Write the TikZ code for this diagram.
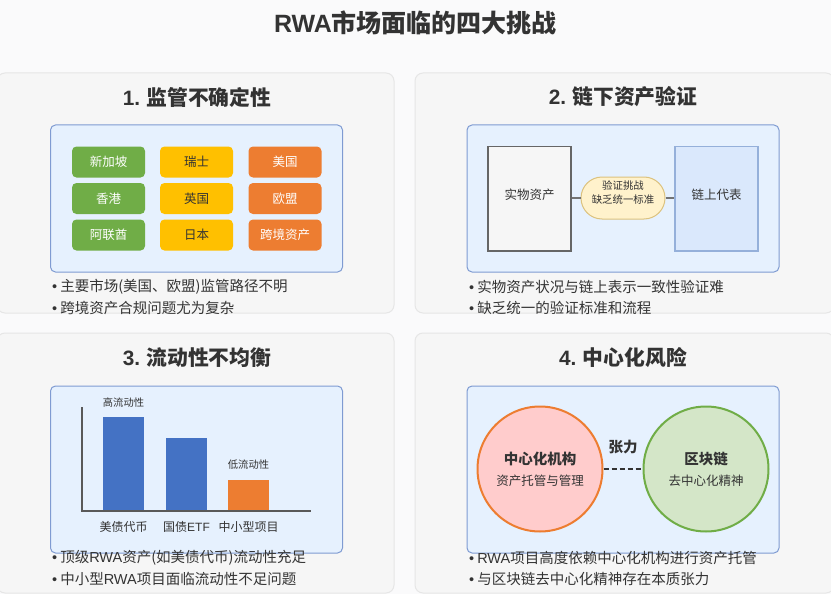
\documentclass[tikz,border=0pt]{standalone}
\usepackage{fontspec}
\setmainfont{Noto Sans CJK SC}
\newfontfamily\latinfont{Liberation Sans}
\usetikzlibrary{positioning,shapes.misc,backgrounds}
\definecolor{pagebg}{HTML}{FAFAFB}
\definecolor{cardbg}{HTML}{F6F6F6}
\definecolor{cardline}{HTML}{E6E6E6}
\definecolor{panelbg}{HTML}{E6F1FE}
\definecolor{panelline}{HTML}{7F9BD2}
\definecolor{inktext}{HTML}{333333}
\definecolor{chipgreen}{HTML}{70AD47}
\definecolor{chipyellow}{HTML}{FFC000}
\definecolor{chiporange}{HTML}{ED7D31}
\definecolor{barblue}{HTML}{4472C4}
\definecolor{chainbg}{HTML}{DAE8FC}
\definecolor{chainline}{HTML}{95B0DA}
\definecolor{pillbg}{HTML}{FFF2CC}
\definecolor{pillline}{HTML}{DCC27E}
\newcommand{\lat}[1]{{\latinfont #1}}
\newcommand{\dotmark}{{\latinfont •}\hspace{3pt}}
\begin{document}
\begin{tikzpicture}[
  x=1pt, y=-1pt,
  font=\fontsize{13}{16}\selectfont,
  every node/.style={text=inktext},
  card/.style={draw=cardline, line width=1pt, fill=cardbg, rounded corners=8pt},
  panel/.style={draw=panelline, line width=1pt, fill=panelbg, rounded corners=5pt},
  cardtitle/.style={font=\fontsize{20.8}{24}\selectfont\bfseries},
  chip/.style={rounded corners=4.5pt, minimum width=73pt, minimum height=31pt, inner sep=0pt, font=\fontsize{12.5}{14}\selectfont},
  greenchip/.style={chip, fill=chipgreen, text=white},
  yellowchip/.style={chip, fill=chipyellow},
  orangechip/.style={chip, fill=chiporange, text=white},
  bullet/.style={anchor=west, inner sep=0pt, font=\fontsize{14.5}{16}\selectfont},
  tinylabel/.style={font=\fontsize{10.3}{12}\selectfont, inner sep=0pt},
  axislabel/.style={font=\fontsize{12}{14}\selectfont, inner sep=0pt},
  sidebox/.style={line width=1.5pt, minimum width=83pt, minimum height=104.5pt, inner sep=0pt},
  sidelabel/.style={font=\fontsize{12.5}{14}\selectfont, inner sep=0pt},
  bar/.style={minimum width=41pt, inner sep=0pt, anchor=south},
  orb/.style={circle, line width=2pt, minimum size=125pt, inner sep=0pt},
  orbtitle/.style={font=\fontsize{14.5}{16}\selectfont\bfseries, inner sep=0pt},
  orbtext/.style={font=\fontsize{12.5}{14}\selectfont, inner sep=0pt},
  link/.style={draw=black!55, line width=1.5pt}
]
\useasboundingbox (0,0) rectangle (831,594);
\fill[pagebg] (0,0) rectangle (831,594);

\node[font=\fontsize{25}{28}\selectfont\bfseries] (maintitle) at (415.5,23) {\lat{RWA}市场面临的四大挑战};

% cards
\draw[card] (-3,73) rectangle (394,313);
\draw[card] (415,73) rectangle (834,313);
\draw[card] (-3,333) rectangle (394,593);
\draw[card] (415,333) rectangle (834,593);
\draw[panel] (50.5,125) rectangle (342.5,272);
\draw[panel] (467,125) rectangle (779,272);
\draw[panel] (50.5,386) rectangle (342.5,553);
\draw[panel] (467,386) rectangle (779,553);

\node[cardtitle] (t1) at (197,97) {\lat{1.} 监管不确定性};
\node[cardtitle] (t2) at (623,97) {\lat{2.} 链下资产验证};
\node[cardtitle] (t3) at (197,358) {\lat{3.} 流动性不均衡};
\node[cardtitle] (t4) at (623,358) {\lat{4.} 中心化风险};

% challenge 1
\node[greenchip] (sg) at (108.5,162) {新加坡};
\node[greenchip] (hk) at (108.5,198.5) {香港};
\node[greenchip] (uae) at (108.5,235) {阿联酋};
\node[yellowchip] (ch) at (196.5,162) {瑞士};
\node[yellowchip] (uk) at (196.5,198.5) {英国};
\node[yellowchip] (jp) at (196.5,235) {日本};
\node[orangechip] (us) at (285,162) {美国};
\node[orangechip] (eu) at (285,198.5) {欧盟};
\node[orangechip] (cross) at (285,235) {跨境资产};
\node[bullet] (b1a) at (52,287) {\dotmark 主要市场(美国、欧盟)监管路径不明};
\node[bullet] (b1b) at (52,308) {\dotmark 跨境资产合规问题尤为复杂};

% challenge 2
\node[sidebox, draw=black!60, fill=cardbg] (real) at (529.5,198.5) {};
\node[sidebox, draw=chainline, fill=chainbg] (chain) at (716.5,198.5) {};
\node[sidelabel] (realt) at (529.5,195) {实物资产};
\node[sidelabel] (chaint) at (716.5,195) {链上代表};
\node[draw=pillline, line width=1pt, fill=pillbg, rounded rectangle, minimum width=84pt, minimum height=42pt, inner sep=0pt] (check) at (623,198) {};
\node[font=\fontsize{10.4}{14.5}\selectfont, inner sep=0pt, align=center] (checkt) at (623,192.5) {验证挑战\\缺乏统一标准};
\draw[link] (real.east |- check.west) -- (check.west);
\draw[link] (check.east) -- (chain.west |- check.east);
\node[bullet] (b2a) at (469,287) {\dotmark 实物资产状况与链上表示一致性验证难};
\node[bullet] (b2b) at (469,308) {\dotmark 缺乏统一的验证标准和流程};

% challenge 3
\coordinate (origin) at (82,511);
\coordinate (ytop) at (82,407);
\coordinate (xend) at (311,511);
\node[bar, fill=barblue, minimum height=94pt] (bar1) at (123.5,511) {};
\node[bar, fill=barblue, minimum height=73pt] (bar2) at (186.5,511) {};
\node[bar, fill=chiporange, minimum height=31pt] (bar3) at (248.5,511) {};
\draw[link, draw=black!65, line width=1.1pt] (ytop) -- (origin) -- (xend);
\node[tinylabel] (hi) at (123.5,403) {高流动性};
\node[tinylabel] (lo) at (248.5,465) {低流动性};
\node[axislabel] (l1) at (123.5,527) {美债代币};
\node[axislabel] (l2) at (186.5,527) {国债\lat{ETF}};
\node[axislabel] (l3) at (248.5,527) {中小型项目};
\node[bullet] (b3a) at (52,558) {\dotmark 顶级\lat{RWA}资产(如美债代币)流动性充足};
\node[bullet] (b3b) at (52,579) {\dotmark 中小型\lat{RWA}项目面临流动性不足问题};

% challenge 4
\node[orb, draw=chiporange, fill=red!20] (cex) at (540,469) {};
\node[orb, draw=chipgreen, fill=chipgreen!30] (bc) at (706,469) {};
\node[orbtitle] (cext) at (540,459) {中心化机构};
\node[orbtext] (cexs) at (540,481) {资产托管与管理};
\node[orbtitle] (bct) at (706,459) {区块链};
\node[orbtext] (bcs) at (706,481) {去中心化精神};
\draw[draw=inktext, line width=1.5pt, dash pattern=on 5pt off 3pt] (cex.east) -- (bc.west);
\node[orbtitle, font=\fontsize{14.5}{16}\selectfont\bfseries] (tension) at (623,447) {张力};
\node[bullet] (b4a) at (469,558) {\dotmark \lat{RWA}项目高度依赖中心化机构进行资产托管};
\node[bullet] (b4b) at (469,579) {\dotmark 与区块链去中心化精神存在本质张力};
\end{tikzpicture}
\end{document}
